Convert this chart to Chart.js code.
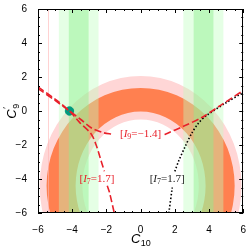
<!DOCTYPE html>
<html>
<head>
<meta charset="utf-8">
<script src="https://cdn.jsdelivr.net/npm/chart.js@4/dist/chart.umd.min.js"></script>
<style>
  html, body { margin: 0; padding: 0; background: #fff; }
  canvas { display: block; }
</style>
</head>
<body>
<canvas id="chart" width="249" height="246"></canvas>
<script>
// axis ranges and tick labels
const xRange = [-6, 6];
const yRange = [-6, 6];
const tickStep = 2;
const minorStep = 0.5;

// allowed vertical bands in C10
const greenWide = [[-4.78, -2.46], [2.5, 4.84]];
const greenNarrow = [[-4.2, -3.04], [3.1, 4.26]];
const faintLines = [-5.42];

// rings: centre, then inner and outer half-widths [rx, ry]
const ringCenter = [0, -4.4];
const pinkInner = [3.4, 3.9];
const pinkOuter = [5.9, 6.46];
const orangeInner = [3.8, 4.37];
const orangeOuter = [5.5, 5.76];

// contour I9 = -1.4 (red dashed), broken by its label
const i9Left = [[-6, 1.32], [-5, 0.62], [-4.16, 0], [-3.5, -0.5], [-2.87, -1.0], [-2.2, -1.27], [-1.65, -1.37]];
const i9Right = [[1.4, -1.38], [1.55, -1.32], [2.5, -0.9], [3.58, -0.38], [4.7, 0.35], [6, 1.2]];

// contour I7 = 1.7, red branch
const i7RedTop = [[-6, 1.42], [-5, 0.7], [-4.16, 0], [-3.57, -0.67], [-2.89, -1.35], [-2.6, -2.0], [-2.35, -2.8], [-2.12, -3.55]];
const i7RedBottom = [[-1.95, -4.4], [-1.83, -4.75], [-1.54, -6]];

// contour I7 = 1.7, black branch
const i7BlackBottom = [[1.65, -6], [1.85, -4.5]];
const i7BlackTop = [[2.0, -3.55], [2.23, -2.93], [2.6, -2.1], [3.0, -1.29], [3.39, -0.71], [3.78, -0.32], [4.94, 0.45], [5.9, 1.03], [6, 1.1]];

// best-fit point
const bestFit = [[-4.16, 0]];

// labels: [x, y, subscript, value, colour]
const curveLabels = [
  [0, -1.36, '9', '=\u22121.4]', '#e8202a'],
  [-2.55, -4.0, '7', '=1.7]', '#e8202a'],
  [1.55, -4.0, '7', '=1.7]', '#222']
];

const pts = arr => arr.map(p => ({ x: p[0], y: p[1] }));

const regionPlugin = {
  id: 'regions',
  beforeDatasetsDraw(chart) {
    const { ctx, chartArea: a, scales: { x, y } } = chart;
    ctx.save();
    ctx.beginPath();
    ctx.rect(a.left, a.top, a.right - a.left, a.bottom - a.top);
    ctx.clip();

    const cx = x.getPixelForValue(ringCenter[0]);
    const cy = y.getPixelForValue(ringCenter[1]);
    const ux = x.getPixelForValue(1) - x.getPixelForValue(0);
    const uy = y.getPixelForValue(0) - y.getPixelForValue(1);
    function ring(inner, outer, color) {
      ctx.beginPath();
      ctx.ellipse(cx, cy, outer[0] * ux, outer[1] * uy, 0, 0, Math.PI * 2);
      ctx.ellipse(cx, cy, inner[0] * ux, inner[1] * uy, 0, 0, Math.PI * 2, true);
      ctx.fillStyle = color;
      ctx.fill('evenodd');
    }
    ring(pinkInner, pinkOuter, 'rgb(255,214,214)');
    ring(orangeInner, orangeOuter, 'rgb(255,128,80)');

    function band(b, color) {
      const x0 = x.getPixelForValue(b[0]);
      const x1 = x.getPixelForValue(b[1]);
      ctx.fillStyle = color;
      ctx.fillRect(x0, a.top, x1 - x0, a.bottom - a.top);
    }
    greenWide.forEach(b => band(b, 'rgba(190,255,190,0.4)'));
    greenNarrow.forEach(b => band(b, 'rgba(140,240,140,0.45)'));

    ctx.strokeStyle = 'rgba(255,180,180,0.6)';
    ctx.lineWidth = 1;
    faintLines.forEach(v => {
      const px = Math.round(x.getPixelForValue(v)) + 0.5;
      ctx.beginPath();
      ctx.moveTo(px, a.top);
      ctx.lineTo(px, a.bottom);
      ctx.stroke();
    });
    ctx.restore();
  },
  afterDatasetsDraw(chart) {
    const { ctx, scales: { x, y } } = chart;
    ctx.save();
    ctx.textBaseline = 'middle';
    curveLabels.forEach(([lx, ly, sub, rest, color]) => {
      const parts = [
        ['[', '11px "Liberation Serif"', 0],
        ['I', 'italic 11px "Liberation Serif"', 0],
        [sub, '8px "Liberation Serif"', 3],
        [rest, '11px "Liberation Serif"', 0]
      ];
      let w = 0;
      parts.forEach(p => { ctx.font = p[1]; w += ctx.measureText(p[0]).width; });
      let px = x.getPixelForValue(lx) - w / 2;
      const py = y.getPixelForValue(ly);
      ctx.fillStyle = color;
      parts.forEach(p => {
        ctx.font = p[1];
        ctx.fillText(p[0], px, py + p[2]);
        px += ctx.measureText(p[0]).width;
      });
    });
    ctx.restore();
  },
  afterDraw(chart) {
    const { ctx, chartArea: a, scales: { x, y } } = chart;
    ctx.save();
    ctx.strokeStyle = '#000';
    ctx.lineWidth = 1;
    ctx.beginPath();
    for (let v = xRange[0]; v <= xRange[1] + 1e-9; v += minorStep) {
      const major = Math.abs(v / tickStep - Math.round(v / tickStep)) < 1e-6;
      const len = major ? 4 : 2;
      const px = Math.round(x.getPixelForValue(v)) + 0.5;
      ctx.moveTo(px, a.bottom); ctx.lineTo(px, a.bottom - len);
      ctx.moveTo(px, a.top); ctx.lineTo(px, a.top + len);
    }
    for (let v = yRange[0]; v <= yRange[1] + 1e-9; v += minorStep) {
      const major = Math.abs(v / tickStep - Math.round(v / tickStep)) < 1e-6;
      const len = major ? 4 : 2;
      const py = Math.round(y.getPixelForValue(v)) + 0.5;
      ctx.moveTo(a.left, py); ctx.lineTo(a.left + len, py);
      ctx.moveTo(a.right, py); ctx.lineTo(a.right - len, py);
    }
    ctx.stroke();
    ctx.strokeRect(Math.round(a.left) + 0.5, Math.round(a.top) + 0.5,
      Math.round(a.right - a.left) - 1, Math.round(a.bottom - a.top) - 1);

    // axis titles
    ctx.fillStyle = '#000';
    ctx.textBaseline = 'alphabetic';
    const midX = (a.left + a.right) / 2;
    ctx.font = 'italic 13px "Liberation Sans"';
    const cw = ctx.measureText('C').width;
    ctx.font = '9px "Liberation Sans"';
    const sw = ctx.measureText('10').width;
    let sx = midX - (cw + sw) / 2;
    ctx.font = 'italic 13px "Liberation Sans"';
    ctx.fillText('C', sx, 243);
    ctx.font = '9px "Liberation Sans"';
    ctx.fillText('10', sx + cw + 0.5, 246);

    ctx.translate(16, (a.top + a.bottom) / 2);
    ctx.rotate(-Math.PI / 2);
    ctx.font = 'italic 13px "Liberation Sans"';
    const yw = cw + 6;
    sx = -yw / 2;
    ctx.fillText('C', sx, 0);
    ctx.font = '9px "Liberation Sans"';
    ctx.fillText('9', sx + cw + 0.5, 3);
    ctx.fillText('\u2032', sx + cw + 0.5, -7);
    ctx.restore();
  }
};

const redDash = { borderColor: '#e8202a', borderWidth: 1.6, borderDash: [7, 3], showLine: true, pointRadius: 0, fill: false, tension: 0.3 };
const blackDot = { borderColor: '#000', borderWidth: 1.6, borderDash: [1.5, 2], showLine: true, pointRadius: 0, fill: false, tension: 0.3 };

new Chart(document.getElementById('chart'), {
  type: 'scatter',
  data: {
    datasets: [
      { ...redDash, data: pts(i9Left) },
      { ...redDash, data: pts(i9Right) },
      { ...redDash, data: pts(i7RedTop) },
      { ...redDash, data: pts(i7RedBottom) },
      { ...blackDot, data: pts(i7BlackBottom) },
      { ...blackDot, data: pts(i7BlackTop) },
      { data: pts(bestFit), pointRadius: 4.2, pointBackgroundColor: '#009a7e', pointBorderColor: '#009a7e', showLine: false }
    ]
  },
  plugins: [regionPlugin],
  options: {
    responsive: false,
    animation: false,
    devicePixelRatio: 1,
    layout: { padding: { top: 6, right: 4, left: 0, bottom: 0 } },
    plugins: { legend: { display: false }, tooltip: { enabled: false } },
    scales: {
      x: {
        type: 'linear', min: xRange[0], max: xRange[1],
        grid: { display: false },
        border: { display: false },
        afterFit: s => { s.height = 33; },
        ticks: {
          stepSize: tickStep, padding: 3, color: '#000', maxRotation: 0,
          font: { family: 'Liberation Sans', size: 10 },
          callback: v => String(v).replace('-', '\u2212')
        }
      },
      y: {
        type: 'linear', min: yRange[0], max: yRange[1],
        grid: { display: false },
        border: { display: false },
        afterFit: s => { s.width = 38; },
        ticks: {
          stepSize: tickStep, padding: 3, color: '#000',
          font: { family: 'Liberation Sans', size: 10 },
          callback: v => String(v).replace('-', '\u2212')
        }
      }
    }
  }
});
</script>
</body>
</html>
